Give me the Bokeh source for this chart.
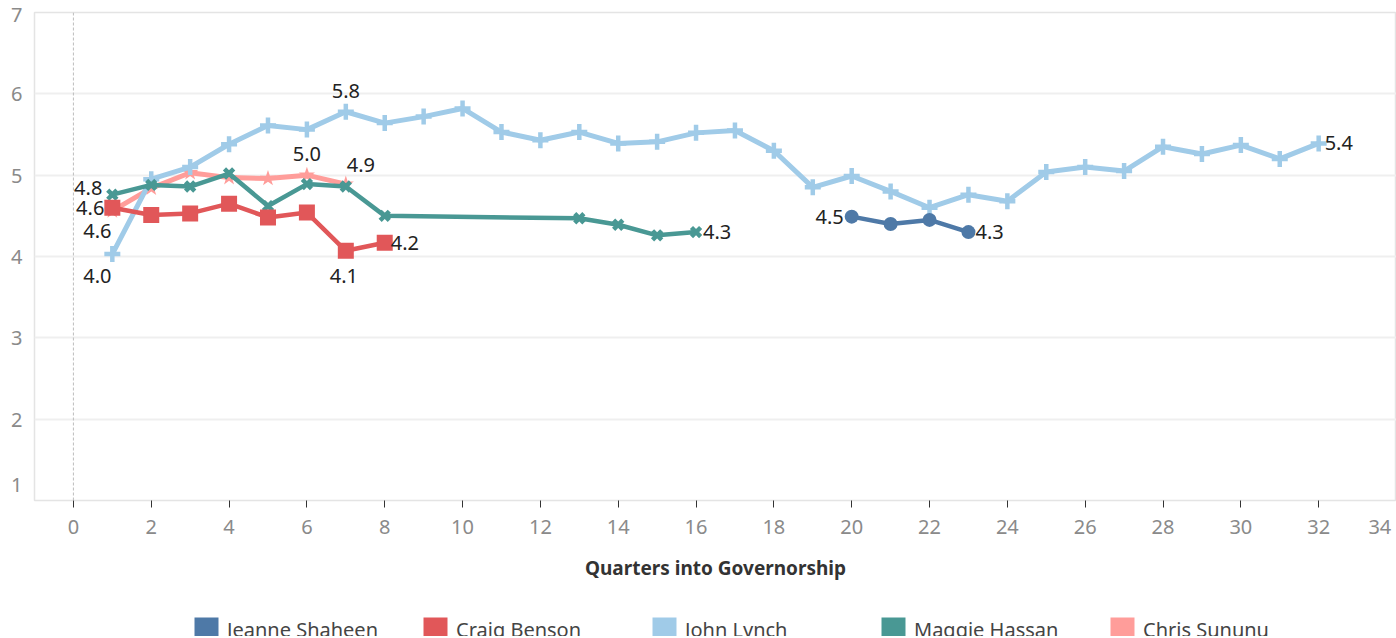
from bokeh.plotting import figure
from bokeh.layouts import column
from bokeh.models import Range1d, Span, Legend, LegendItem, FixedTicker, ColumnDataSource
from bokeh.core.properties import value
from bokeh.embed import file_html
from bokeh.resources import INLINE

# ---------------- data ----------------
series_names = ["Jeanne Shaheen", "Craig Benson", "John Lynch", "Maggie Hassan", "Chris Sununu"]
series_colors = ["#4e79a7", "#e15759", "#a0cbe8", "#499894", "#ff9d9a"]

shaheen_q = [20, 21, 22, 23]
shaheen_v = [4.49, 4.40, 4.45, 4.30]

benson_q = [1, 2, 3, 4, 5, 6, 7, 8]
benson_v = [4.60, 4.51, 4.53, 4.65, 4.48, 4.54, 4.07, 4.17]

lynch_q = list(range(1, 33))
lynch_v = [4.03, 4.95, 5.10, 5.38, 5.61, 5.56, 5.78, 5.64, 5.72, 5.82,
           5.53, 5.43, 5.53, 5.39, 5.41, 5.52, 5.55, 5.30, 4.85, 4.99,
           4.80, 4.60, 4.76, 4.68, 5.04, 5.10, 5.05, 5.35, 5.26, 5.37,
           5.20, 5.39]

hassan_q = [1, 2, 3, 4, 5, 6, 7, 8, 13, 14, 15, 16]
hassan_v = [4.76, 4.88, 4.86, 5.02, 4.62, 4.89, 4.86, 4.50, 4.47, 4.39, 4.26, 4.30]

sununu_q = [1, 2, 3, 4, 5, 6, 7]
sununu_v = [4.56, 4.84, 5.03, 4.97, 4.96, 5.00, 4.89]

x_ticks = list(range(0, 36, 2))
y_ticks = [1, 2, 3, 4, 5, 6, 7]
x_title = "Quarters into Governorship"

# labelled points: (series, quarter)
labelled = [("John Lynch", 1), ("Maggie Hassan", 1), ("Craig Benson", 1), ("Chris Sununu", 1),
            ("John Lynch", 7), ("Chris Sununu", 6), ("Chris Sununu", 7), ("Craig Benson", 7),
            ("Craig Benson", 8), ("Maggie Hassan", 16), ("Jeanne Shaheen", 20),
            ("Jeanne Shaheen", 23), ("John Lynch", 32)]

# ---------------- styles ----------------
label_style = {
    ("John Lynch", 1): ("center", -15, 22),
    ("Maggie Hassan", 1): ("right", -10, -7),
    ("Craig Benson", 1): ("right", -8, 0),
    ("Chris Sununu", 1): ("center", -15, 20),
    ("John Lynch", 7): ("center", 0, -21),
    ("Chris Sununu", 6): ("center", 0, -21),
    ("Chris Sununu", 7): ("center", 15, -19),
    ("Craig Benson", 7): ("center", -2, 25),
    ("Craig Benson", 8): ("left", 6, 0),
    ("Maggie Hassan", 16): ("left", 7, 0),
    ("Jeanne Shaheen", 20): ("right", -8, 0),
    ("Jeanne Shaheen", 23): ("left", 7, 0),
    ("John Lynch", 32): ("left", 6, 0),
}

FONT = "Noto Sans"
NBSP = "\u00a0"

p = figure(width=1396, height=600, x_range=Range1d(-1, 34), y_range=Range1d(1, 7),
           output_backend="svg", toolbar_location=None,
           min_border_left=34, min_border_right=0, min_border_top=12, min_border_bottom=100)
p.background_fill_color = "white"
p.border_fill_color = "white"
p.outline_line_color = "#e4e4e4"
p.outline_line_width = 1.5

p.xgrid.visible = False
p.ygrid.ticker = FixedTicker(ticks=y_ticks[1:-1])
p.ygrid.grid_line_color = "#efefef"
p.ygrid.grid_line_width = 2

xa = p.xaxis[0]
xa.ticker = FixedTicker(ticks=x_ticks)
# the end-of-range label is nudged inward, as in the reference
xa.major_label_overrides = {x_ticks[-1]: str(x_ticks[-1]) + NBSP}
xa.axis_line_color = "#e4e4e4"
xa.major_tick_line_color = "#333333"
xa.major_tick_out = 7
xa.major_tick_in = 0
xa.minor_tick_line_color = None
xa.major_label_text_font = FONT
xa.major_label_text_font_size = "20px"
xa.major_label_text_color = "#8a8a8a"
xa.major_label_standoff = 5
xa.axis_label = x_title
xa.axis_label_text_font = FONT
xa.axis_label_text_font_size = "19px"
xa.axis_label_text_font_style = "bold"
xa.axis_label_text_color = "#333333"
xa.axis_label_standoff = 12

ya = p.yaxis[0]
ya.ticker = FixedTicker(ticks=y_ticks)
ya.major_label_overrides = {y_ticks[0]: str(y_ticks[0]) + "\n"}
ya.axis_line_color = None
ya.major_tick_line_color = None
ya.minor_tick_line_color = None
ya.major_tick_out = 0
ya.major_tick_in = 0
ya.major_label_text_font = FONT
ya.major_label_text_font_size = "20px"
ya.major_label_text_color = "#8a8a8a"
ya.major_label_standoff = 12

p.add_layout(Span(location=0, dimension="height", line_color="#bdbdbd",
                  line_dash="3 2", line_width=1))

series = {
    "Jeanne Shaheen": (shaheen_q, shaheen_v),
    "Craig Benson": (benson_q, benson_v),
    "John Lynch": (lynch_q, lynch_v),
    "Maggie Hassan": (hassan_q, hassan_v),
    "Chris Sununu": (sununu_q, sununu_v),
}
color_of = dict(zip(series_names, series_colors))

marker_style = {
    "Chris Sununu": dict(marker="star", size=17, line_width=0),
    "John Lynch": dict(marker="cross", size=16, line_width=4.5),
    "Maggie Hassan": dict(marker="x", size=13, line_width=4.5),
    "Craig Benson": dict(marker="square", size=16, line_width=0),
    "Jeanne Shaheen": dict(marker="circle", size=14, line_width=0),
}
line_width_of = {"Chris Sununu": 5, "John Lynch": 5, "Maggie Hassan": 4.5,
                 "Craig Benson": 4.5, "Jeanne Shaheen": 4.5}

draw_order = ["Chris Sununu", "John Lynch", "Maggie Hassan", "Craig Benson", "Jeanne Shaheen"]
for name in draw_order:
    q, v = series[name]
    c = color_of[name]
    src = ColumnDataSource(dict(x=q, y=v))
    p.line("x", "y", source=src, line_color=c, line_width=line_width_of[name], line_join="round")
    ms = dict(marker_style[name])
    lw = ms.pop("line_width")
    if lw:
        p.scatter("x", "y", source=src, line_color=c, fill_color=c, line_width=lw, **ms)
    else:
        p.scatter("x", "y", source=src, line_color=None, fill_color=c, **ms)

# data labels
lx, ly, lt, la, ldx, ldy = [], [], [], [], [], []
for name, qq in labelled:
    q, v = series[name]
    val = v[q.index(qq)]
    al, dx, dy = label_style[(name, qq)]
    lx.append(qq)
    ly.append(val)
    lt.append(f"{val:.1f}")
    la.append(al)
    ldx.append(dx)
    ldy.append(dy)
lsrc = ColumnDataSource(dict(x=lx, y=ly, t=lt, a=la, dx=ldx, dy=ldy))
p.text("x", "y", text="t", source=lsrc, text_align="a", x_offset="dx", y_offset="dy",
       text_baseline="middle", text_font=value(FONT), text_font_size="20px", text_color="#222222")

# legend strip (separate small figure under the chart; its view range excludes the data,
# so the per-series range boxes only serve as legend swatches)
lg = figure(width=1396, height=36, x_range=Range1d(0, 1), y_range=Range1d(0, 1),
            output_backend="svg", toolbar_location=None,
            x_axis_location=None, y_axis_location=None,
            min_border_left=0, min_border_right=0, min_border_top=0, min_border_bottom=0)
lg.xgrid.visible = False
lg.ygrid.visible = False
lg.outline_line_color = None
lg.background_fill_color = "white"
lg.border_fill_color = "white"
items = []
for name in series_names:
    q, v = series[name]
    r = lg.quad(left=[min(q)], right=[max(q)], top=[max(v)], bottom=[min(v)],
                fill_color=color_of[name], line_color=None)
    items.append(LegendItem(label=name, renderers=[r]))
legend = Legend(items=items, orientation="horizontal", location=(157, -8),
                glyph_width=30, glyph_height=30, label_standoff=6, label_width=181, spacing=12,
                padding=0, margin=0, border_line_color=None, background_fill_alpha=0,
                label_text_font=FONT, label_text_font_size="20px", label_text_color="#444444")
lg.add_layout(legend)

layout = column(p, lg, spacing=0)
open("out.html", "w").write(file_html(layout, INLINE))
